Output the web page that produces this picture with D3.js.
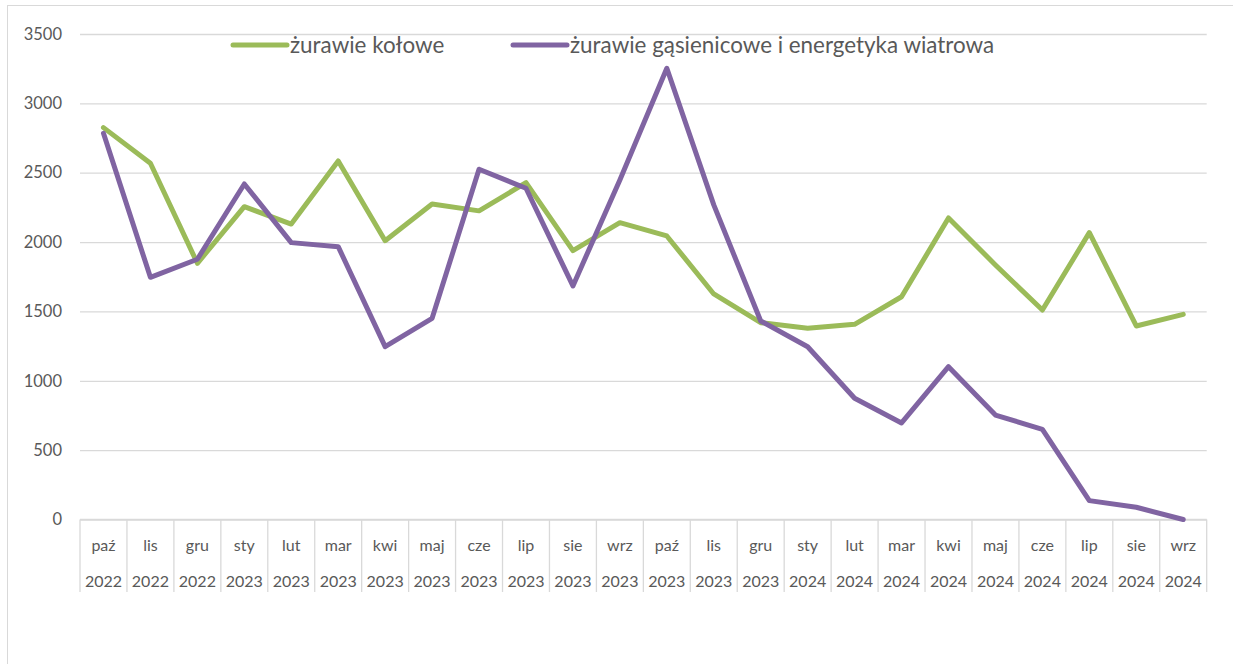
<!DOCTYPE html>
<html><head><meta charset="utf-8">
<script src="https://cdn.jsdelivr.net/npm/d3@7"></script>
<style>
html,body{margin:0;padding:0;background:#fff;}
svg{display:block;}
text{font-family:Lato,"Open Sans",sans-serif;fill:#595959;}
</style></head>
<body>
<svg id="chart" width="1233" height="664"></svg>
<script>
const months = ["paź","lis","gru","sty","lut","mar","kwi","maj","cze","lip","sie","wrz","paź","lis","gru","sty","lut","mar","kwi","maj","cze","lip","sie","wrz"];
const years = ["2022","2022","2022","2023","2023","2023","2023","2023","2023","2023","2023","2023","2023","2023","2023","2024","2024","2024","2024","2024","2024","2024","2024","2024"];
const seriesNames = ["żurawie kołowe","żurawie gąsienicowe i energetyka wiatrowa"];
const kolowe = [2825,2568,1847,2255,2130,2585,2010,2275,2225,2428,1938,2140,2044,1626,1419,1378,1407,1606,2174,1835,1510,2068,1395,1479];
const gasienicowe = [2784,1746,1876,2419,1996,1967,1246,1450,2525,2388,1684,2448,3253,2268,1431,1245,874,696,1102,753,650,136,88,0];
const yTicks = [0,500,1000,1500,2000,2500,3000,3500];
const colors = ["#9BBB59","#8064A2"];

(function(){
const svg = d3.select("#chart");
svg.append("rect").attr("x",7.5).attr("y",5.5).attr("width",1300).attr("height",700)
  .attr("fill","none").attr("stroke","#d9d9d9").attr("stroke-width",1);

const mLeft = 80, mRight = 1206.7, mTop = 34, mBottom = 519.5;
const idx = d3.range(months.length);
const x = d3.scaleBand().domain(idx).range([mLeft,mRight]).padding(0);
const y = d3.scaleLinear().domain([0,3500]).range([mBottom,mTop]);

const grid = svg.append("g").attr("transform",`translate(${mLeft},0)`)
  .call(d3.axisLeft(y).tickValues(yTicks).tickSize(-(mRight-mLeft)).tickFormat(""));
grid.select(".domain").remove();
grid.selectAll("line").attr("stroke","#d9d9d9").attr("stroke-width",1.3);

const ya = svg.append("g").attr("transform",`translate(${mLeft},0)`)
  .call(d3.axisLeft(y).tickValues(yTicks).tickSize(0).tickPadding(18).tickFormat(d3.format("d")));
ya.select(".domain").remove();
ya.selectAll("text").attr("font-size",16.5).attr("fill","#595959").style("font-family","Lato, sans-serif");

const xa = svg.append("g");
const bounds = idx.map(i=>x(i)).concat([mRight]);
xa.selectAll("line.sep").data(bounds).join("line")
  .attr("x1",d=>d).attr("x2",d=>d).attr("y1",mBottom).attr("y2",592)
  .attr("stroke","#d9d9d9").attr("stroke-width",1.3);
xa.append("line").attr("x1",mLeft).attr("x2",mRight).attr("y1",mBottom).attr("y2",mBottom)
  .attr("stroke","#d9d9d9").attr("stroke-width",1.3);
xa.selectAll("text.m").data(idx).join("text").attr("class","m")
  .attr("x",i=>x(i)+x.bandwidth()/2).attr("y",551).attr("text-anchor","middle")
  .attr("font-size",16).text(i=>months[i]);
xa.selectAll("text.yr").data(idx).join("text").attr("class","yr")
  .attr("x",i=>x(i)+x.bandwidth()/2).attr("y",587).attr("text-anchor","middle")
  .attr("font-size",16).text(i=>years[i]);

const line = d3.line().x((d,i)=>x(i)+x.bandwidth()/2).y(d=>y(d));
[kolowe,gasienicowe].forEach((s,k)=>{
  svg.append("path").datum(s).attr("d",line).attr("fill","none")
    .attr("stroke",colors[k]).attr("stroke-width",5)
    .attr("stroke-linejoin","round").attr("stroke-linecap","round");
});

const leg = [{x:233,name:seriesNames[0],c:colors[0]},{x:513,name:seriesNames[1],c:colors[1]}];
leg.forEach(l=>{
  svg.append("line").attr("x1",l.x).attr("x2",l.x+54).attr("y1",45).attr("y2",45)
    .attr("stroke",l.c).attr("stroke-width",5).attr("stroke-linecap","round");
  svg.append("text").attr("x",l.x+57).attr("y",53).attr("font-size",22.4).text(l.name);
});
})();
</script>
</body></html>
